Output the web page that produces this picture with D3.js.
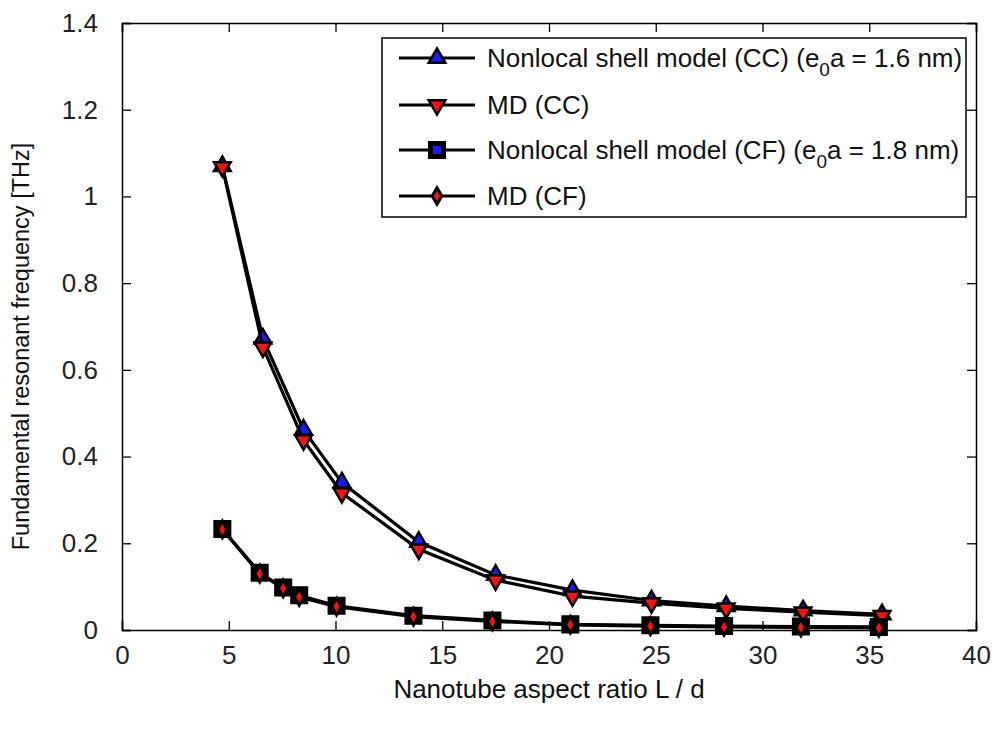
<!DOCTYPE html>
<html>
<head>
<meta charset="utf-8">
<script src="https://cdn.jsdelivr.net/npm/d3@7"></script>
<style>
  body { margin: 0; background: #fff; }
  svg text { font-family: "Liberation Sans", Arial, sans-serif; fill: #111; }
</style>
</head>
<body>
<div id="chart"></div>
<script>
// aspect ratio L/d for the clamped-clamped (CC) runs
const xCC = [4.7, 6.6, 8.5, 10.3, 13.9, 17.5, 21.1, 24.8, 28.3, 31.9, 35.6];
const nonlocalCC = [1.07, 0.672, 0.462, 0.34, 0.203, 0.127, 0.092, 0.068, 0.055, 0.045, 0.036];
const mdCC = [1.068, 0.652, 0.438, 0.316, 0.186, 0.115, 0.078, 0.062, 0.05, 0.041, 0.033];

// clamped-free (CF) runs
const xCF = [4.7, 6.45, 7.55, 8.3, 10.05, 13.65, 17.35, 21.0, 24.75, 28.2, 31.8, 35.45];
const nonlocalCF = [0.233, 0.132, 0.098, 0.08, 0.056, 0.033, 0.022, 0.013, 0.011, 0.009, 0.008, 0.007];
const mdCF = [0.232, 0.13, 0.096, 0.076, 0.054, 0.031, 0.02, 0.012, 0.009, 0.007, 0.006, 0.005];

const xTicks = [0, 5, 10, 15, 20, 25, 30, 35, 40];
const yTicks = [0, 0.2, 0.4, 0.6, 0.8, 1, 1.2, 1.4];

const legendLabels = [
  ['Nonlocal shell model (CC) (e', '0', 'a = 1.6 nm)'],
  ['MD (CC)'],
  ['Nonlocal shell model (CF) (e', '0', 'a = 1.8 nm)'],
  ['MD (CF)']
];

const W = 995, H = 731;
const margin = {top: 23, right: 19, bottom: 101, left: 122};
const width = W - margin.left - margin.right,
      height = H - margin.top - margin.bottom;

const svg = d3.select('#chart').append('svg')
    .attr('width', W)
    .attr('height', H);

const g = svg.append('g')
    .attr('transform', 'translate(' + margin.left + ',' + margin.top + ')');

const xScale = d3.scaleLinear().domain([0, 40]).range([0, width]);
const yScale = d3.scaleLinear().domain([0, 1.4]).range([height, 0]);

// box + inward ticks on all sides, matlab style
g.append('g')
    .attr('transform', 'translate(0,' + height + ')')
    .call(d3.axisBottom(xScale).tickValues(xTicks).tickSize(-9).tickPadding(16).tickFormat(d3.format('d')));
g.append('g')
    .call(d3.axisTop(xScale).tickValues(xTicks).tickSize(-9).tickFormat(''));
g.append('g')
    .call(d3.axisLeft(yScale).tickValues(yTicks).tickSize(-9).tickPadding(24).tickFormat(d => d3.format('')(+d.toFixed(1))));
g.append('g')
    .attr('transform', 'translate(' + width + ',0)')
    .call(d3.axisRight(yScale).tickValues(yTicks).tickSize(-9).tickFormat(''));

g.selectAll('.domain').attr('stroke', '#000').attr('stroke-width', 1.5);
g.selectAll('.tick line').attr('stroke', '#000').attr('stroke-width', 1.3);
g.selectAll('.tick text').style('font-size', '26px').style('fill', '#222');

// axis titles
svg.append('text')
    .attr('x', margin.left + width / 2)
    .attr('y', 698)
    .attr('text-anchor', 'middle')
    .style('font-size', '26px')
    .text('Nanotube aspect ratio L / d');

svg.append('text')
    .attr('transform', 'translate(29,' + (margin.top + height / 2 + 20) + ') rotate(-90)')
    .attr('text-anchor', 'middle')
    .style('font-size', '23.5px')
    .text('Fundamental resonant frequency [THz]');

const line = d3.line()
    .x(d => xScale(d[0]))
    .y(d => yScale(d[1]));

const markers = [
  {type: d3.symbolTriangle, size: 120, fill: '#1a1aff', rot: 0, sw: 2.5},
  {type: d3.symbolTriangle, size: 120, fill: '#ff1010', rot: 180, sw: 2.5},
  {type: d3.symbolSquare, size: 170, fill: '#1a1aff', rot: 0, sw: 5},
  {type: d3.symbolDiamond, size: 80, fill: '#ff1010', rot: 0, sw: 3}
];

const series = [
  {x: xCC, y: nonlocalCC, m: markers[0]},
  {x: xCC, y: mdCC, m: markers[1]},
  {x: xCF, y: nonlocalCF, m: markers[2]},
  {x: xCF, y: mdCF, m: markers[3]}
];

series.forEach(function(s) {
  const pts = s.x.map((xv, i) => [xv, s.y[i]]);
  g.append('path')
      .datum(pts)
      .attr('fill', 'none')
      .attr('stroke', '#000')
      .attr('stroke-width', 3.2)
      .attr('d', line);
  g.selectAll(null)
      .data(pts)
      .enter()
      .append('path')
      .attr('d', d3.symbol().type(s.m.type).size(s.m.size))
      .attr('transform', d => 'translate(' + xScale(d[0]) + ',' + yScale(d[1]) + ') rotate(' + s.m.rot + ')')
      .attr('fill', s.m.fill)
      .attr('stroke', '#000')
      .attr('stroke-width', s.m.sw);
});

// legend
const legend = svg.append('g').attr('transform', 'translate(382,38)');
legend.append('rect')
    .attr('width', 584)
    .attr('height', 179)
    .attr('fill', '#fff')
    .attr('stroke', '#000')
    .attr('stroke-width', 1.5);

const rowY = [20, 67, 112, 158];
legendLabels.forEach(function(lab, i) {
  const row = legend.append('g').attr('transform', 'translate(0,' + rowY[i] + ')');
  row.append('line')
      .attr('x1', 17).attr('x2', 93)
      .attr('stroke', '#000').attr('stroke-width', 3.2);
  const m = markers[i];
  row.append('path')
      .attr('d', d3.symbol().type(m.type).size(m.size))
      .attr('transform', 'translate(55,0) rotate(' + m.rot + ')')
      .attr('fill', m.fill)
      .attr('stroke', '#000')
      .attr('stroke-width', m.sw);
  const t = row.append('text')
      .attr('x', 105)
      .attr('y', 9)
      .style('font-size', '26px');
  t.append('tspan').text(lab[0]);
  if (lab.length > 1) {
    t.append('tspan').attr('dy', 9).style('font-size', '19px').text(lab[1]);
    t.append('tspan').attr('dy', -9).text(lab[2]);
  }
});
</script>
</body>
</html>
